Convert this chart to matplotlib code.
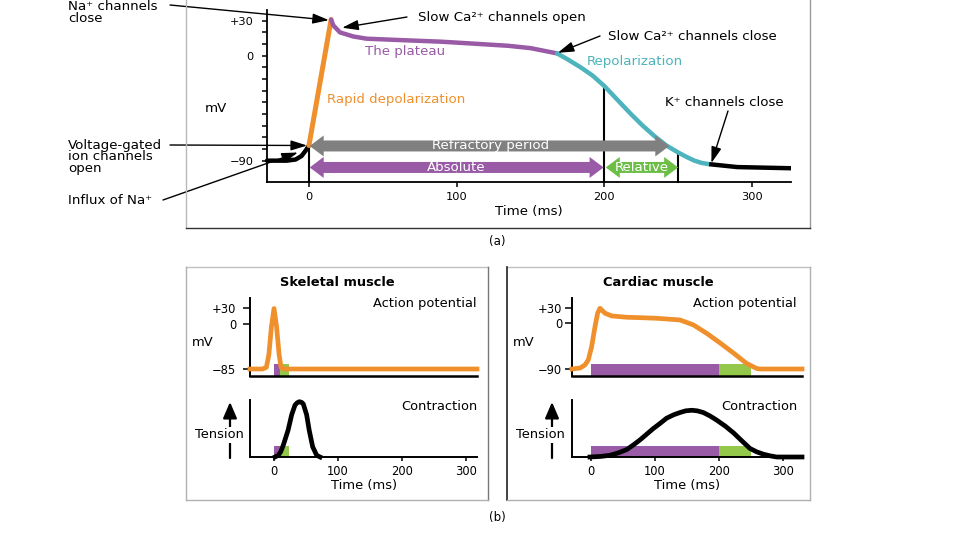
import matplotlib
matplotlib.use("Agg")
import matplotlib.pyplot as plt
from matplotlib.patches import FancyArrow, FancyArrowPatch
from matplotlib.lines import Line2D

plt.rcParams['font.family'] = ['DejaVu Sans']

W, H = 960, 540

# ---------------- data ----------------
# (a) cardiac action potential, segments: time (ms), potential (mV)
rest_t = [-28.4, -15, -9, -5, -2, 0]
rest_v = [-90, -90, -89, -86, -81, -77]
depol_t = [0, 15]
depol_v = [-77, 31]
plateau_t = [15, 16.5, 21, 30, 39, 60, 90, 116, 135, 150, 168]
plateau_v = [31, 26, 20, 16.5, 14.6, 13.5, 12, 10, 8.5, 6.5, 2]
repol_t = [168, 175, 184, 192, 200, 209, 218, 226, 234, 242, 250, 256, 261, 266, 271]
repol_v = [2, -3, -10, -17, -26, -38, -50, -60, -69, -77, -83, -87, -90, -92, -93]
tail_t = [271, 290, 326.4]
tail_v = [-93, -95.5, -96.5]

marker_t = [0, 200, 250]
marker_top = [-77, -26, -83]

refractory = (0.5, 244)
absolute = (0.5, 199.5)
relative = (201, 250)

main_xticks = [0, 100, 200, 300]
main_yticks = [30, 0, -90]
main_yticklabels = ['+30', '0', '\u221290']
main_yminor = [-80, -70, -60, -50, -40, -30, -20, -10, 10, 20]

# (b) skeletal muscle
skel_ap_t = [-37.5, -18, -12, -8, -4, 0, 4, 8, 11, 15, 317.2]
skel_ap_v = [-85, -85, -82, -58, -5, 29, -5, -58, -82, -85, -85]
skel_tw_t = [1.5, 6.8, 10.4, 14.6, 22, 27.6, 32.8, 36, 39.6, 43, 45.8, 51, 55, 60.4, 66.7, 72]
skel_tw_v = [0, 0.03, 0.09, 0.21, 0.47, 0.74, 0.91, 0.95, 0.97, 0.96, 0.93, 0.74, 0.47, 0.18, 0.03, 0]
skel_abs = (0, 9)
skel_rel = (9, 23)
skel_yticks = [30, 0, -85]
skel_yticklabels = ['+30', '0', '\u221285']

# (b) cardiac muscle
card_ap_t = [-29.7, -17, -9.4, -4.2, 1, 6.2, 10.4, 14, 21.9, 32.3, 55.8, 76.6, 102, 139, 160,
             181, 202, 223, 243, 259, 264, 329.7]
card_ap_v = [-90, -88, -82, -72, -46, -7, 20, 29.5, 19.7, 14.4, 11.8, 11, 9.8, 6.5, -3.3,
             -20, -39, -59, -79, -89, -90, -90]
card_tw_t = [-1.6, 15, 29.7, 42, 55.8, 66, 76.6, 87, 97.4, 108, 118, 129, 139, 148, 157.4, 166,
             175.5, 186, 196, 210, 223, 236, 248.4, 259, 269, 280, 290, 329.7]
card_tw_v = [0, 0.01, 0.03, 0.07, 0.13, 0.21, 0.30, 0.40, 0.50, 0.59, 0.68, 0.74, 0.78, 0.81,
             0.82, 0.81, 0.78, 0.72, 0.65, 0.54, 0.42, 0.28, 0.15, 0.09, 0.05, 0.02, 0, 0]
card_abs = (0, 200)
card_rel = (200, 250)
card_yticks = [30, 0, -90]
card_yticklabels = ['+30', '0', '\u221290']

bottom_xticks = [0, 100, 200, 300]

# ---------------- colours ----------------
ORANGE = '#F0902C'
PURPLE = '#995AA6'
TEAL = '#4DB3BC'
GRAY = '#808080'
GREEN = '#6CBE47'
LGREEN = '#93C84A'

FS = 9.6     # main annotation text
FSB = 9.4    # lower panel text

fig = plt.figure(figsize=(9.6, 5.4), dpi=100)
fig.patch.set_facecolor('white')


def fx(x):
    return x / W


def fy(y):
    return 1 - y / H


def add_ax(x0, y0, x1, y1):
    a = fig.add_axes([x0 / W, 1 - y1 / H, (x1 - x0) / W, (y1 - y0) / H])
    a.patch.set_alpha(0)
    for s in ['top', 'right']:
        a.spines[s].set_visible(False)
    return a


def ftext(x, y, s, **kw):
    kw.setdefault('fontsize', FS)
    kw.setdefault('va', 'center')
    kw.setdefault('ha', 'left')
    return fig.text(fx(x), fy(y), s, **kw)


def fline(x0, y0, x1, y1, color, lw):
    fig.add_artist(Line2D([fx(x0), fx(x1)], [fy(y0), fy(y1)], color=color, lw=lw,
                          transform=fig.transFigure))


# ---------------- frames ----------------
fline(186, 0, 186, 228, '#b8b8b8', 1.0)
fline(810, 0, 810, 228, '#9a9a9a', 1.0)
fline(186, 228, 810, 228, '#333333', 1.0)

# skeletal box
fline(186, 267, 488, 267, '#c0c0c0', 1.0)
fline(186, 267, 186, 500, '#b0b0b0', 1.0)
fline(488, 267, 488, 500, '#777777', 1.0)
fline(186, 500, 488, 500, '#b0b0b0', 1.0)
# cardiac box
fline(507, 267, 810, 267, '#c0c0c0', 1.0)
fline(507, 267, 507, 500, '#222222', 1.2)
fline(810, 267, 810, 500, '#b0b0b0', 1.0)
fline(507, 500, 810, 500, '#b0b0b0', 1.0)

# ---------------- (a) main action potential ----------------
ax = add_ax(267, 10, 791, 182)
ax.set_xlim(-28.4, 326.4)
ax.set_ylim(-108.3, 39.2)
ax.spines['left'].set_linewidth(1.3)
ax.spines['bottom'].set_linewidth(1.3)
ax.set_xticks(main_xticks)
ax.set_xticklabels([str(t) for t in main_xticks])
ax.set_yticks(main_yticks)
ax.set_yticklabels(main_yticklabels)
ax.set_yticks(main_yminor, minor=True)
ax.tick_params(axis='y', which='both', direction='out', length=3.6, width=1.1, pad=6.0, labelsize=8.2)
ax.tick_params(axis='x', direction='out', length=3.6, width=1.1, pad=3.5, labelsize=8.2)

lwc = 3.2
ax.plot(rest_t, rest_v, color='black', lw=lwc, solid_capstyle='round', clip_on=False, zorder=4)
ax.plot(depol_t, depol_v, color=ORANGE, lw=lwc + 0.4, solid_capstyle='round', clip_on=False, zorder=4)
ax.plot(plateau_t, plateau_v, color=PURPLE, lw=lwc, solid_capstyle='round', clip_on=False, zorder=4)
ax.plot(repol_t, repol_v, color=TEAL, lw=lwc, solid_capstyle='round', clip_on=False, zorder=4)
ax.plot(tail_t, tail_v, color='black', lw=lwc, solid_capstyle='butt', clip_on=False, zorder=4)

ymin = ax.get_ylim()[0]
for t, top in zip(marker_t, marker_top):
    ax.plot([t, t], [ymin, top], color='black', lw=1.5, zorder=3, clip_on=False)

# fat double-headed arrows
px_per_mv = 1.1667
px_per_ms = 1.4767
body_w = 11 / px_per_mv
head_w = 21 / px_per_mv
head_l = 14 / px_per_ms


def double_arrow(a, x0, x1, y, color):
    mid = (x0 + x1) / 2
    for start, end in [(mid, x1), (mid, x0)]:
        a.add_patch(FancyArrow(start, y, end - start, 0, width=body_w, head_width=head_w,
                               head_length=head_l, length_includes_head=True,
                               color=color, lw=0, zorder=5))


y_ref = (55.7 - 146) / px_per_mv
y_abs = (55.7 - 167.5) / px_per_mv
double_arrow(ax, refractory[0], refractory[1], y_ref, GRAY)
double_arrow(ax, absolute[0], absolute[1], y_abs, PURPLE)
double_arrow(ax, relative[0], relative[1], y_abs, GREEN)
ax.text(123, y_ref, 'Refractory period', color='white', fontsize=FS, ha='center', va='center', zorder=6)
ax.text(100, y_abs, 'Absolute', color='white', fontsize=FS, ha='center', va='center', zorder=6)
ax.text(225.5, y_abs, 'Relative', color='white', fontsize=FS, ha='center', va='center', zorder=6)

# annotation arrows
aprops = dict(arrowstyle='-|>,head_length=0.7,head_width=0.22', color='black', lw=1.0,
              shrinkA=0, shrinkB=0, mutation_scale=14)


def ann(xy, xtext, ytext):
    ax.annotate('', xy=xy, xycoords='data', xytext=(fx(xtext), fy(ytext)),
                textcoords='figure fraction', arrowprops=aprops, zorder=7)


ann((13.5, 30.5), 170, 5)
ann((22.5, 24), 407, 17)
ann((168.5, 2.5), 600, 36)
ann((272.5, -92), 728, 111)
ann((-1.3, -77), 170, 145)
ann((-7.5, -83), 163, 200)

ftext(68, 0, 'Na\u207a channels\nclose', va='top', linespacing=0.86)
ftext(418, 17, 'Slow Ca\u00b2\u207a channels open')
ftext(608, 36, 'Slow Ca\u00b2\u207a channels close')
ftext(365, 51, 'The plateau', color=PURPLE)
ftext(327, 99, 'Rapid depolarization', color=ORANGE)
ftext(587, 62, 'Repolarization', color=TEAL)
ftext(665, 102, 'K\u207a channels close')
ftext(68, 138.5, 'Voltage-gated\nion channels\nopen', va='top', linespacing=0.86)
ftext(68, 201, 'Influx of Na\u207a')
ftext(216, 109, 'mV', ha='center')
ftext(529, 212, 'Time (ms)', ha='center')
ftext(497, 241, '(a)', ha='center', fontsize=8.5)
ftext(497, 517, '(b)', ha='center', fontsize=8.5)


# ---------------- (b) panels ----------------
def ap_axes(x0, x1, zero_px, top_mv_px, low_mv_px, tick_vals, tick_labels, ap_t, ap_v,
            abs_span, rel_span, rect_top, pad):
    a = add_ax(x0, 298, x1, 376)
    sx = 0.64
    a.set_xlim((x0 - zero_px) / sx, (x1 - zero_px) / sx)
    v_hi, v_lo = tick_vals[0], tick_vals[-1]
    spm = (low_mv_px - top_mv_px) / (v_hi - v_lo)
    a.set_ylim(v_lo - (376 - low_mv_px) / spm, v_hi + (top_mv_px - 298) / spm)
    a.spines['left'].set_linewidth(1.4)
    a.spines['bottom'].set_linewidth(1.8)
    a.set_xticks([])
    a.set_yticks(tick_vals)
    a.set_yticklabels(tick_labels)
    a.tick_params(axis='y', direction='out', length=5, width=1.1, pad=pad, labelsize=8.3)
    lo = a.get_ylim()[0]
    a.bar([abs_span[0]], [rect_top - lo], width=abs_span[1] - abs_span[0], bottom=lo,
          align='edge', color=PURPLE, lw=0, zorder=2)
    a.bar([rel_span[0]], [rect_top - lo], width=rel_span[1] - rel_span[0], bottom=lo,
          align='edge', color=LGREEN, lw=0, zorder=2)
    a.plot(ap_t, ap_v, color=ORANGE, lw=3.4, solid_joinstyle='round', zorder=3, clip_on=False)
    return a


def tw_axes(x0, x1, zero_px, tw_t, tw_v, abs_span, rel_span):
    a = add_ax(x0, 400, x1, 457)
    sx = 0.64
    a.set_xlim((x0 - zero_px) / sx, (x1 - zero_px) / sx)
    a.set_ylim(0, 1)
    a.spines['left'].set_linewidth(1.4)
    a.spines['bottom'].set_linewidth(1.4)
    a.set_yticks([])
    a.set_xticks(bottom_xticks)
    a.set_xticklabels([str(t) for t in bottom_xticks])
    a.tick_params(axis='x', direction='out', length=3, width=1.1, pad=3, labelsize=8.3)
    a.bar([abs_span[0]], [0.19], width=abs_span[1] - abs_span[0], bottom=0,
          align='edge', color=PURPLE, lw=0, zorder=2)
    a.bar([rel_span[0]], [0.19], width=rel_span[1] - rel_span[0], bottom=0,
          align='edge', color=LGREEN, lw=0, zorder=2)
    a.plot(tw_t, tw_v, color='black', lw=3.4, solid_joinstyle='round', zorder=3, clip_on=False)
    return a


ap_axes(250, 477, 274, 308, 369, skel_yticks, skel_yticklabels, skel_ap_t, skel_ap_v,
        skel_abs, skel_rel, -75, 5)
tw_axes(250, 477, 274, skel_tw_t, skel_tw_v, skel_abs, skel_rel)
ap_axes(572, 802, 591, 308, 369, card_yticks, card_yticklabels, card_ap_t, card_ap_v,
        card_abs, card_rel, -80, 2)
tw_axes(572, 802, 591, card_tw_t, card_tw_v, card_abs, card_rel)

for cx, title, mvx, tx, arx, rx, timex in [(337.5, 'Skeletal muscle', 203, 219, 230, 477, 364),
                                           (658.5, 'Cardiac muscle', 524, 540, 552, 797, 687)]:
    ftext(cx, 282, title, ha='center', fontsize=FSB, fontweight='bold')
    ftext(rx, 303, 'Action potential', ha='right', fontsize=FSB)
    ftext(rx, 406, 'Contraction', ha='right', fontsize=FSB)
    ftext(mvx, 342, 'mV', ha='center', fontsize=FSB)
    fig.add_artist(FancyArrowPatch(
        (fx(arx), fy(458)), (fx(arx), fy(402)), transform=fig.transFigure,
        arrowstyle='-|>,head_length=0.7,head_width=0.3', mutation_scale=14,
        color='black', lw=1.6, shrinkA=0, shrinkB=0, zorder=1))
    ftext(tx, 435, 'Tension', ha='center', fontsize=FSB, zorder=3,
          bbox=dict(boxstyle='square,pad=0.15', fc='white', ec='none'))
    ftext(timex, 486, 'Time (ms)', ha='center', fontsize=FSB)

fig.savefig('out.png', dpi=100)
